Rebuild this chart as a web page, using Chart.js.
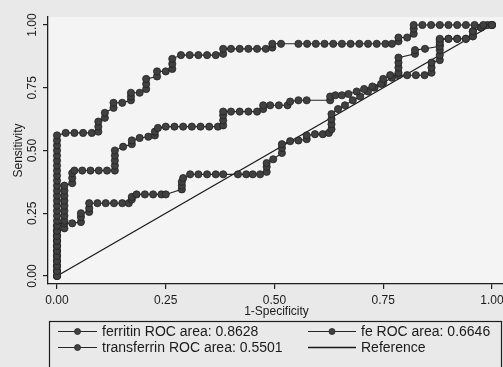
<!DOCTYPE html>
<html>
<head>
<meta charset="utf-8">
<script src="https://cdn.jsdelivr.net/npm/chart.js@4.4.0/dist/chart.umd.min.js"></script>
<style>
  html, body { margin: 0; padding: 0; background: #e8e8e8; }
  canvas { display: block; }
</style>
</head>
<body>
<canvas id="rocChart" width="503" height="367"></canvas>
<script>
// axis ticks
const xTicks = [0, 0.25, 0.5, 0.75, 1];
const yTicks = [0, 0.25, 0.5, 0.75, 1];
const xTickLabels = ['0.00', '0.25', '0.50', '0.75', '1.00'];
const yTickLabels = ['0.00', '0.25', '0.50', '0.75', '1.00'];
const xTitle = '1-Specificity';
const yTitle = 'Sensitivity';

const seriesNames = ['ferritin ROC area: 0.8628', 'fe ROC area: 0.6646',
                     'transferrin ROC area: 0.5501', 'Reference'];

// ferritin ROC points (1-specificity, sensitivity)
const ferritinFpr = [0,0,0,0,0,0,0,0,0,0,0,0,0,0,0,0,0,0,0,0,0,0,0,0,0,0,0,0,0,
  0.02,0.04,0.06,0.08,0.095,0.095,0.095,0.11,0.11,0.13,0.13,0.15,0.17,0.17,0.17,0.19,
  0.205,0.205,0.205,0.23,0.23,0.25,0.265,0.265,0.265,0.285,0.305,0.325,0.345,0.365,
  0.382,0.382,0.40,0.42,0.44,0.46,0.48,0.495,0.495,0.515,0.555,0.575,0.595,0.615,
  0.635,0.655,0.675,0.695,0.715,0.735,0.755,0.77,0.785,0.785,0.805,0.82,0.82,0.82,
  0.84,0.86,0.88,0.90,0.92,0.94,0.96,0.98,1];
const ferritinTpr = [0,0.02,0.04,0.06,0.08,0.10,0.12,0.14,0.16,0.18,0.20,0.22,0.24,0.26,
  0.28,0.30,0.32,0.34,0.36,0.38,0.40,0.42,0.44,0.46,0.48,0.50,0.52,0.54,0.56,
  0.57,0.57,0.57,0.57,0.575,0.595,0.615,0.63,0.65,0.67,0.69,0.69,0.70,0.715,0.73,0.73,
  0.745,0.765,0.785,0.795,0.815,0.815,0.825,0.845,0.865,0.88,0.88,0.88,0.88,0.88,
  0.885,0.905,0.905,0.905,0.905,0.905,0.905,0.91,0.925,0.925,0.925,0.925,0.925,0.925,
  0.925,0.925,0.925,0.925,0.925,0.925,0.925,0.925,0.935,0.95,0.95,0.965,0.985,1,
  1,1,1,1,1,1,1,1,1];

// fe ROC points
const feFpr = [0,0,0,0,0,0,0,0,0,0,0,
  0.017,0.017,0.017,0.017,0.017,0.017,0.017,0.017,0.035,0.035,0.035,0.04,0.058,0.077,
  0.096,0.115,0.133,0.133,0.133,0.133,0.133,0.152,0.172,0.172,0.19,0.21,0.225,0.225,
  0.232,0.25,0.27,0.29,0.31,0.33,0.35,0.37,0.382,0.382,0.382,0.382,0.40,0.42,0.44,0.46,
  0.474,0.474,0.49,0.51,0.53,0.536,0.555,0.574,0.628,0.628,0.64,0.655,0.67,0.689,0.706,
  0.725,0.745,0.75,0.766,0.785,0.785,0.785,0.785,0.823,0.823,0.846,0.88,0.88,0.88,
  0.90,0.92,0.94,0.956,0.956,0.975,0.99,1];
const feTpr = [0,0.02,0.04,0.06,0.08,0.10,0.12,0.14,0.16,0.18,0.20,
  0.22,0.24,0.26,0.28,0.30,0.32,0.34,0.36,0.37,0.39,0.41,0.42,0.42,0.42,
  0.42,0.42,0.42,0.44,0.46,0.48,0.50,0.515,0.525,0.54,0.55,0.555,0.56,0.575,
  0.59,0.595,0.595,0.595,0.595,0.595,0.595,0.595,0.60,0.62,0.64,0.655,0.655,0.655,0.655,0.655,
  0.665,0.68,0.68,0.68,0.68,0.695,0.70,0.70,0.70,0.715,0.72,0.72,0.725,0.735,0.745,
  0.755,0.765,0.785,0.80,0.81,0.83,0.85,0.87,0.885,0.90,0.905,0.915,0.93,0.945,
  0.945,0.945,0.945,0.955,0.975,0.99,1,1];

// transferrin ROC points
const transferrinFpr = [0,0,0,0,0,0,0,0,0,0,
  0.017,0.017,0.035,0.055,0.055,0.055,0.074,0.074,0.074,0.093,0.112,0.131,0.15,0.165,
  0.172,0.172,0.183,0.202,0.221,0.24,0.25,0.287,0.287,0.287,0.29,0.306,0.325,0.345,0.365,
  0.382,0.416,0.435,0.45,0.467,0.482,0.482,0.482,0.497,0.517,0.517,0.517,0.536,0.555,
  0.574,0.574,0.593,0.611,0.625,0.631,0.631,0.631,0.631,0.646,0.662,0.68,0.697,0.715,
  0.73,0.75,0.77,0.785,0.805,0.825,0.845,0.861,0.861,0.861,0.88,0.88,0.88,0.88,0.88,
  0.90,0.92,0.94,0.956,0.956,0.975,1];
const transferrinTpr = [0,0.02,0.04,0.06,0.08,0.10,0.12,0.14,0.16,0.18,
  0.19,0.21,0.21,0.215,0.235,0.25,0.255,0.27,0.29,0.29,0.29,0.29,0.29,0.29,
  0.305,0.315,0.325,0.325,0.325,0.325,0.325,0.345,0.36,0.375,0.39,0.405,0.405,0.405,0.405,
  0.405,0.405,0.405,0.405,0.405,0.415,0.435,0.45,0.465,0.49,0.51,0.525,0.537,0.54,
  0.545,0.56,0.565,0.565,0.57,0.585,0.605,0.625,0.645,0.665,0.68,0.70,0.715,0.735,
  0.75,0.77,0.79,0.80,0.80,0.80,0.80,0.81,0.83,0.85,0.86,0.88,0.90,0.92,0.94,
  0.945,0.945,0.945,0.955,0.975,0.99,1];

// reference diagonal
const referenceFpr = [0, 1];
const referenceTpr = [0, 1];

function toPoints(xs, ys) {
  return xs.map((x, i) => ({x: x, y: ys[i]}));
}

const lineColor = '#262626';
const dotFill = '#404040';
const dotEdge = '#222222';
const font = '"Liberation Sans", Arial, sans-serif';

function rocSet(label, xs, ys) {
  return {
    label: label,
    data: toPoints(xs, ys),
    showLine: true,
    borderColor: lineColor,
    borderWidth: 1.1,
    pointRadius: 3.6,
    pointBackgroundColor: dotFill,
    pointBorderColor: dotEdge,
    pointBorderWidth: 0.8,
    clip: false
  };
}

const backdrop = {
  id: 'backdrop',
  beforeDraw(chart) {
    const c = chart.ctx, a = chart.chartArea;
    c.save();
    c.fillStyle = '#e9e9e9';
    c.fillRect(0, 0, chart.width, chart.height);
    c.fillStyle = '#f4f4f4';
    c.fillRect(a.left, a.top, a.right - a.left, a.bottom - a.top);
    c.restore();
  }
};

// tick labels, titles and the boxed legend
const labelsAndLegend = {
  id: 'labelsAndLegend',
  afterDraw(chart) {
    const c = chart.ctx;
    const xs = chart.scales.x, ys = chart.scales.y;
    c.save();
    c.fillStyle = '#1a1a1a';
    c.font = '12px ' + font;
    c.textAlign = 'center';
    c.textBaseline = 'middle';
    xTicks.forEach((v, i) => c.fillText(xTickLabels[i], xs.getPixelForValue(v), 301));
    yTicks.forEach((v, i) => {
      c.save();
      c.translate(33, ys.getPixelForValue(v));
      c.rotate(-Math.PI / 2);
      c.fillText(yTickLabels[i], 0, 0);
      c.restore();
    });
    c.fillText(xTitle, xs.getPixelForValue(0.5) + 2, 312);
    c.save();
    c.translate(18.5, ys.getPixelForValue(0.5));
    c.rotate(-Math.PI / 2);
    c.fillText(yTitle, 0, 0);
    c.restore();

    // legend
    c.strokeStyle = '#1e1e1e';
    c.lineWidth = 1.2;
    c.strokeRect(49.5, 321.5, 452, 60);
    const spots = [
      {ds: 0, x0: 58, x1: 97, tx: 102, y: 331},
      {ds: 1, x0: 308, x1: 356, tx: 361, y: 331},
      {ds: 2, x0: 58, x1: 97, tx: 102, y: 347},
      {ds: 3, x0: 308, x1: 356, tx: 361, y: 347}
    ];
    c.font = '14px ' + font;
    c.textAlign = 'left';
    spots.forEach(s => {
      const d = chart.data.datasets[s.ds];
      c.strokeStyle = d.borderColor;
      c.lineWidth = d.borderWidth;
      c.beginPath();
      c.moveTo(s.x0, s.y + 0.5);
      c.lineTo(s.x1, s.y + 0.5);
      c.stroke();
      if (d.pointRadius > 0) {
        c.beginPath();
        c.arc((s.x0 + s.x1) / 2, s.y + 0.5, 3, 0, Math.PI * 2);
        c.fillStyle = d.pointBackgroundColor;
        c.fill();
        c.lineWidth = d.pointBorderWidth;
        c.strokeStyle = d.pointBorderColor;
        c.stroke();
      }
      c.fillStyle = '#1a1a1a';
      c.fillText(d.label, s.tx, s.y + 1);
    });
    c.restore();
  }
};

const ctx = document.getElementById('rocChart');

new Chart(ctx, {
  type: 'scatter',
  data: {
    datasets: [
      rocSet(seriesNames[0], ferritinFpr, ferritinTpr),
      rocSet(seriesNames[1], feFpr, feTpr),
      rocSet(seriesNames[2], transferrinFpr, transferrinTpr),
      {
        label: seriesNames[3],
        data: toPoints(referenceFpr, referenceTpr),
        showLine: true,
        borderColor: '#1a1a1a',
        borderWidth: 1.3,
        pointRadius: 0,
        clip: false
      }
    ]
  },
  options: {
    responsive: false,
    animation: false,
    layout: { padding: { left: 43, right: 0, top: 17, bottom: 78 }, autoPadding: false },
    plugins: { legend: { display: false }, tooltip: { enabled: false } },
    scales: {
      x: {
        type: 'linear',
        min: -0.0207,
        max: 1.0253,
        afterBuildTicks: s => { s.ticks = xTicks.map(v => ({value: v})); },
        ticks: { display: false },
        grid: { drawOnChartArea: false, drawTicks: true, tickLength: 5, color: '#1e1e1e', lineWidth: 1.2 },
        border: { display: true, color: '#1e1e1e', width: 1.3 }
      },
      y: {
        type: 'linear',
        min: -0.0319,
        max: 1.0318,
        afterBuildTicks: s => { s.ticks = yTicks.map(v => ({value: v})); },
        ticks: { display: false },
        grid: { drawOnChartArea: false, drawTicks: true, tickLength: 5, color: '#1e1e1e', lineWidth: 1.2 },
        border: { display: true, color: '#1e1e1e', width: 1.3 }
      }
    }
  },
  plugins: [backdrop, labelsAndLegend]
});
</script>
</body>
</html>
